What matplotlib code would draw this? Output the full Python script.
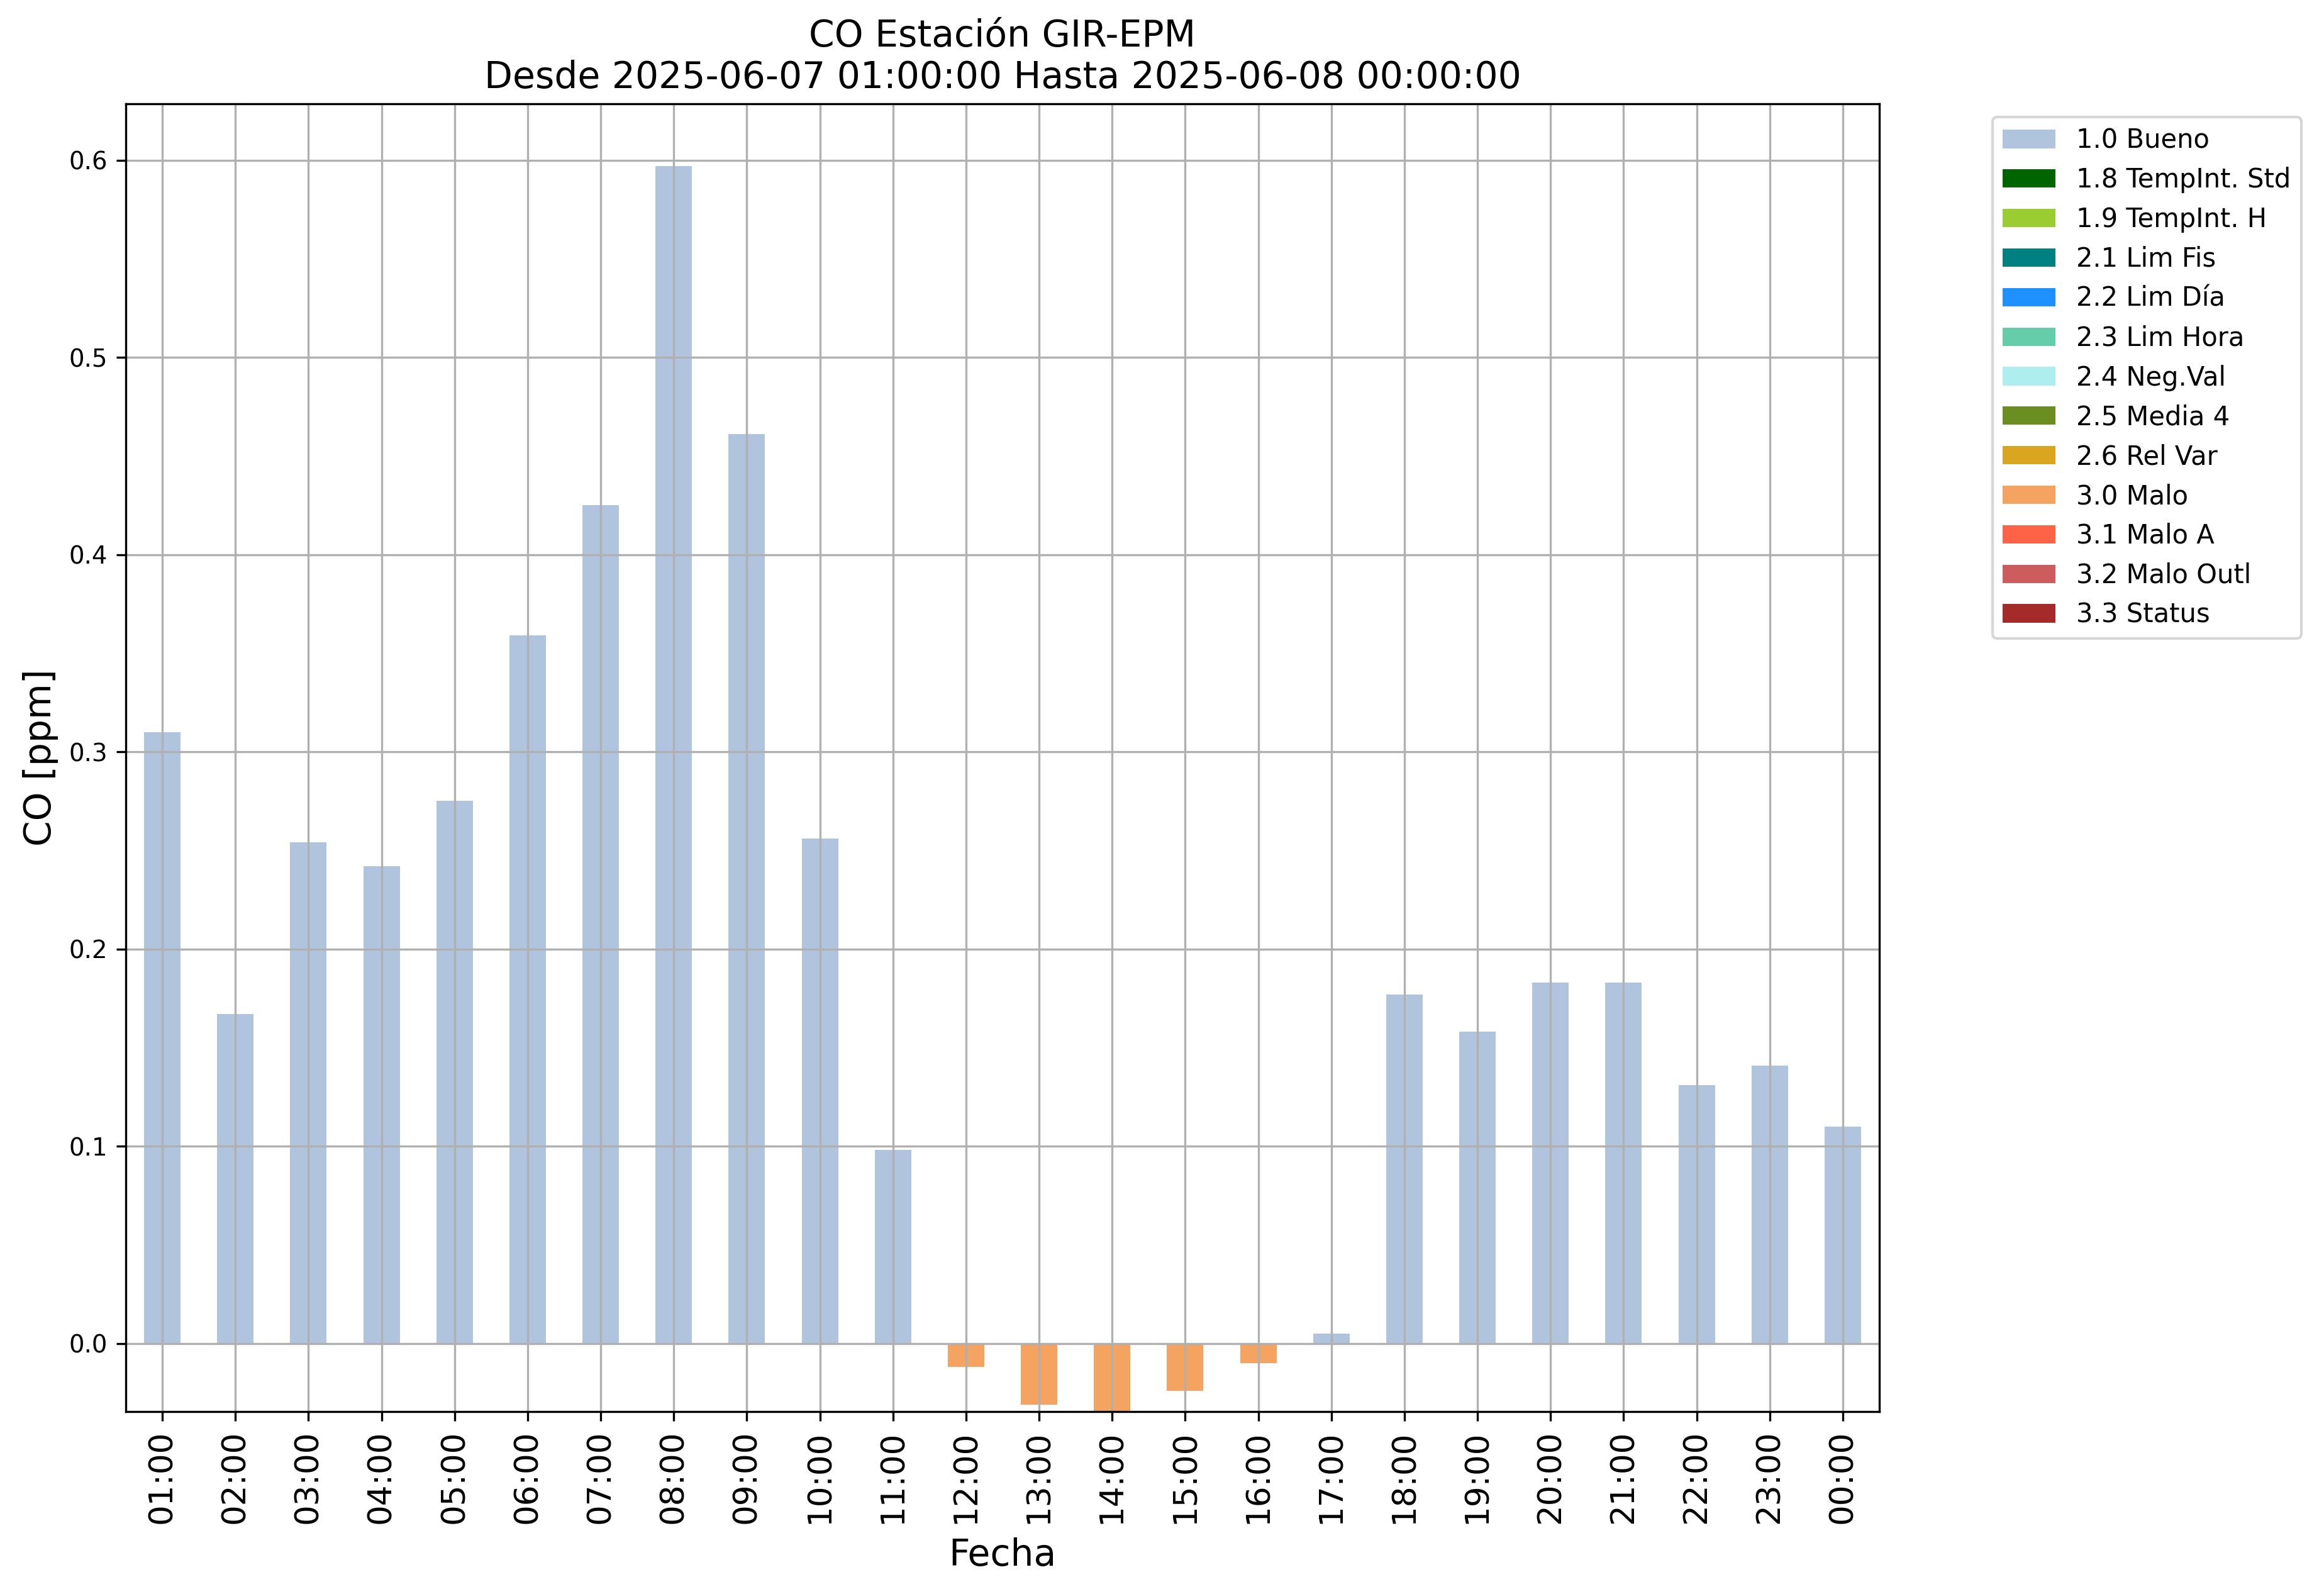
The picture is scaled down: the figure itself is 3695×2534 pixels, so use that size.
import matplotlib
matplotlib.use("Agg")
import matplotlib.pyplot as plt
from matplotlib.patches import Patch

hours = ["01:00", "02:00", "03:00", "04:00", "05:00", "06:00", "07:00", "08:00",
         "09:00", "10:00", "11:00", "12:00", "13:00", "14:00", "15:00", "16:00",
         "17:00", "18:00", "19:00", "20:00", "21:00", "22:00", "23:00", "00:00"]
co_values = [0.310, 0.167, 0.254, 0.242, 0.275, 0.359, 0.425, 0.597,
             0.461, 0.256, 0.098, -0.012, -0.031, -0.040, -0.024, -0.010,
             0.005, 0.177, 0.158, 0.183, 0.183, 0.131, 0.141, 0.110]
flags = ["1.0 Bueno"] * 11 + ["3.0 Malo"] * 5 + ["1.0 Bueno"] * 8

flag_names = ["1.0 Bueno", "1.8 TempInt. Std", "1.9 TempInt. H", "2.1 Lim Fis",
              "2.2 Lim Día", "2.3 Lim Hora", "2.4 Neg.Val", "2.5 Media 4",
              "2.6 Rel Var", "3.0 Malo", "3.1 Malo A", "3.2 Malo Outl", "3.3 Status"]
flag_colors = ["lightsteelblue", "darkgreen", "yellowgreen", "teal",
               "dodgerblue", "mediumaquamarine", "paleturquoise", "olivedrab",
               "goldenrod", "sandybrown", "tomato", "indianred", "brown"]
color_map = dict(zip(flag_names, flag_colors))

fig = plt.figure(figsize=(3695 / 300, 2534 / 300), dpi=300)
ax = fig.add_axes([200 / 3695, 1 - 2244 / 2534, 2788 / 3695, (2244 - 165) / 2534])

x = list(range(len(hours)))
ax.bar(x, co_values, width=0.5, color=[color_map[f] for f in flags])
ax.set_xlim(-0.5, len(hours) - 0.5)
ax.set_ylim(-0.0346, 0.6286)
ax.set_xticks(x)
ax.set_xticklabels(hours, rotation=90, fontsize=12.4)
ax.tick_params(axis="y", labelsize=9.3)
ax.grid(True)
ax.set_xlabel("Fecha", fontsize=14)
ax.xaxis.set_label_coords(0.5, -0.0960)
ax.set_ylabel("CO [ppm]", fontsize=14)
ax.set_title("CO Estación GIR-EPM\nDesde 2025-06-07 01:00:00 Hasta 2025-06-08 00:00:00",
             fontsize=14)

handles = [Patch(facecolor=c, label=n) for n, c in zip(flag_names, flag_colors)]
ax.legend(handles=handles, loc="upper left", bbox_to_anchor=(1.057, 1.0), fontsize=10)

fig.savefig("out.png", dpi=300)
